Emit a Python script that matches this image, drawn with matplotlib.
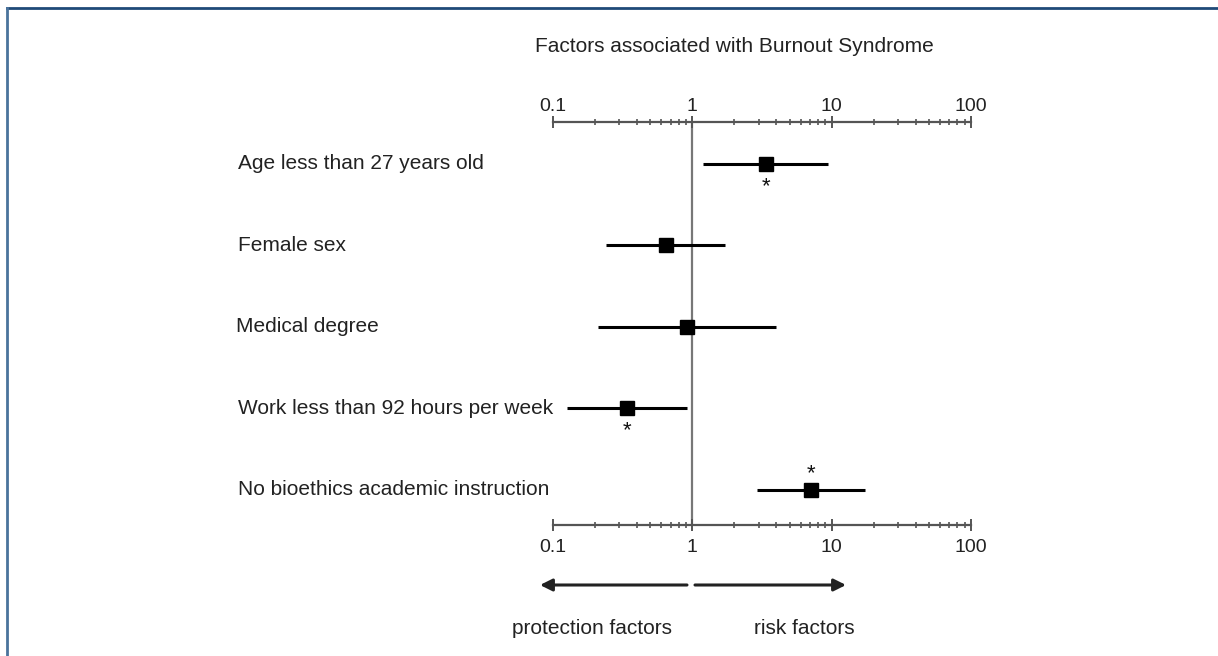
import matplotlib.pyplot as plt
import numpy as np
from matplotlib.lines import Line2D
from matplotlib.patches import FancyArrowPatch
from matplotlib.transforms import blended_transform_factory
from matplotlib.ticker import FixedLocator, NullFormatter, FixedFormatter

plt.rcParams['font.family'] = ['Liberation Sans', 'DejaVu Sans']

# data: odds ratios with confidence intervals
factors = ['Age less than 27 years old', 'Female sex', 'Medical degree',
           'Work less than 92 hours per week', 'No bioethics academic instruction']
odds = [3.4, 0.65, 0.92, 0.34, 7.1]
ci_low = [1.2, 0.24, 0.21, 0.127, 2.9]
ci_high = [9.4, 1.72, 4.0, 0.92, 17.4]
signif = ['below', None, None, 'below', 'above']
major_ticks = [0.1, 1, 10, 100]
major_labels = ['0.1', '1', '10', '100']

W, H = 1218, 656
txt_col = '#222222'
fig = plt.figure(figsize=(W / 100, H / 100), dpi=100)
ax = fig.add_axes([553 / W, 1 - 525 / H, (971 - 553) / W, (525 - 122) / H])
ax.set_xscale('log')
ax.set_xlim(0.1, 100)
ax.set_ylim(4.43, -0.515)

axis_col = '#555555'
for s in ['left', 'right']:
    ax.spines[s].set_visible(False)
for s in ['top', 'bottom']:
    ax.spines[s].set_color(axis_col)
    ax.spines[s].set_linewidth(1.6)
ax.set_yticks([])

minor = [m * 10.0 ** e for e in (-1, 0, 1) for m in range(2, 10)]
ax.xaxis.set_major_locator(FixedLocator(major_ticks))
ax.xaxis.set_major_formatter(FixedFormatter(major_labels))
ax.xaxis.set_minor_locator(FixedLocator(minor))
ax.xaxis.set_minor_formatter(NullFormatter())
ax.tick_params(axis='x', which='both', top=True, bottom=True, labeltop=False,
               labelbottom=True, direction='inout', color=axis_col,
               labelsize=14, labelcolor=txt_col)
ax.tick_params(axis='x', which='major', length=8, width=1.4, pad=6)
ax.tick_params(axis='x', which='minor', length=5, width=1.2)

# top tick labels sit closer to the axis line
top_trans = ax.get_xaxis_transform()
for v, lab in zip(major_ticks, major_labels):
    ax.annotate(lab, (v, 1), xycoords=top_trans, xytext=(0, 11),
                textcoords='offset points', ha='center', va='center',
                fontsize=14, color=txt_col)

ax.axvline(1, color='#777777', lw=1.6, zorder=1)

y = np.arange(len(factors))
for i in range(len(factors)):
    ax.plot([ci_low[i], ci_high[i]], [y[i], y[i]], color='black', lw=2.2,
            solid_capstyle='butt', zorder=2)
ax.plot(odds, y, 's', color='black', markersize=9.5, zorder=3)

for i, pos in enumerate(signif):
    if pos is None:
        continue
    dy = -16 if pos == 'below' else 12
    ax.annotate('*', (odds[i], y[i]), xytext=(0, dy), textcoords='offset points',
                ha='center', va='center', fontsize=16, color='#111111')

lab_trans = blended_transform_factory(fig.transFigure, ax.transData)
lab_x = [238, 238, 236, 238, 238]
for i, name in enumerate(factors):
    ax.text(lab_x[i] / W, y[i], name, transform=lab_trans,
            ha='left', va='center', fontsize=15, color=txt_col)

fig.text(734 / W, 1 - 46 / H, 'Factors associated with Burnout Syndrome',
         ha='center', va='center', fontsize=15, color=txt_col)

# arrows below the axis
ya = 1 - 585 / H
for x0, x1 in [(687, 540), (695, 846)]:
    fig.add_artist(FancyArrowPatch((x0 / W, ya), (x1 / W, ya),
                   transform=fig.transFigure,
                   arrowstyle='-|>,head_length=4,head_width=2',
                   color=txt_col, lw=2.2, mutation_scale=1.8,
                   shrinkA=0, shrinkB=0))
fig.text(592 / W, 1 - 629 / H, 'protection factors', ha='center', va='center',
         fontsize=15, color=txt_col)
fig.text(804 / W, 1 - 629 / H, 'risk factors', ha='center', va='center',
         fontsize=15, color=txt_col)

# frame border (top and left only)
fig.add_artist(Line2D([7 / W, 1], [1 - 8 / H, 1 - 8 / H], transform=fig.transFigure,
                      color='#1f4a78', lw=2))
fig.add_artist(Line2D([7 / W, 7 / W], [0, 1 - 8 / H], transform=fig.transFigure,
                      color='#4a739c', lw=2))

fig.savefig('out.png', dpi=100)
